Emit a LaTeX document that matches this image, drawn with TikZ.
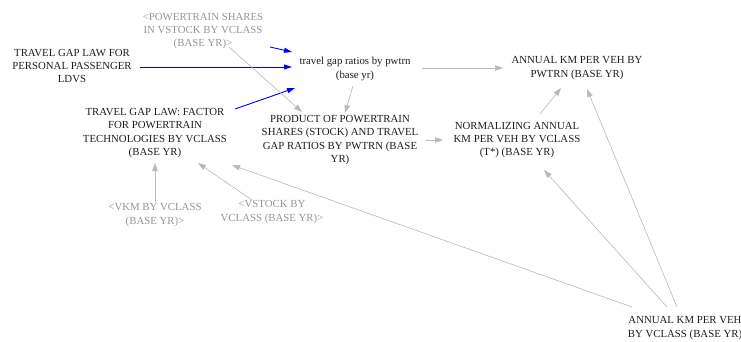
\documentclass[tikz,border=0pt]{standalone}
\usepackage{fontspec}
\setmainfont{Liberation Serif}
\usetikzlibrary{arrows.meta,calc}
\definecolor{txt}{RGB}{30,30,30}
\definecolor{shadow}{RGB}{150,150,150}
\definecolor{lnk}{RGB}{185,185,185}
\definecolor{blu}{RGB}{0,0,255}
\tikzset{
  var/.style={inner sep=0pt, align=center, text=txt, font=\fontsize{10.8}{13.3}\selectfont},
  ghost/.style={var, text=shadow},
  garrow/.style={draw=lnk, line width=0.6pt, -{Triangle[length=8pt,width=5.5pt]}},
  barrow/.style={draw=blu, line width=0.9pt, -{Triangle[length=8pt,width=5pt]}},
}
\begin{document}
\begin{tikzpicture}[x=1pt,y=-1pt]
\useasboundingbox[fill=white] (0,0) rectangle (741,341);
\node[ghost] (ps) at (203,31) {<POWERTRAIN SHARES\\IN VSTOCK BY VCLASS\\(BASE YR)>};
\node[var] (tgl) at (72,66) {TRAVEL GAP LAW FOR\\PERSONAL PASSENGER\\LDVS};
\node[var] (tgr) at (355,69) {travel gap ratios by pwtrn\\(base yr)};
\node[var] (ak) at (577,68) {ANNUAL KM PER VEH BY\\PWTRN (BASE YR)};
\node[var] (tgf) at (155,133) {TRAVEL GAP LAW: FACTOR\\FOR POWERTRAIN\\TECHNOLOGIES BY VCLASS\\(BASE YR)};
\node[var] (prod) at (340,140) {PRODUCT OF POWERTRAIN\\SHARES (STOCK) AND TRAVEL\\GAP RATIOS BY PWTRN (BASE\\YR)};
\node[var] (norm) at (517,140) {NORMALIZING ANNUAL\\KM PER VEH BY VCLASS\\(T*) (BASE YR)};
\node[ghost] (vkm) at (155,215) {<VKM BY VCLASS\\(BASE YR)>};
\node[ghost] (vst) at (272,212) {<VSTOCK BY\\VCLASS (BASE YR)>};
\node[var] (akv) at (685,328) {ANNUAL KM PER VEH\\BY VCLASS (BASE YR)};

\draw[barrow] ($(ps)+(67,16)$) -- ($(tgr)+(-63,-17)$);
\draw[barrow] ($(tgl)+(68,1)$) -- ($(tgr)+(-63,-2)$);
\draw[barrow] ($(tgf)+(80,-24)$) -- ($(tgr)+(-60,19)$);
\draw[garrow] ($(ps)+(26,16)$) -- ($(prod)+(-38,-28)$);
\draw[garrow] ($(tgr)+(-2,17)$) -- ($(prod)+(5,-27)$);
\draw[garrow] ($(tgr)+(67,-1)$) -- ($(ak)+(-74,0)$);
\draw[garrow] ($(prod)+(86,0)$) -- ($(norm)+(-74,0)$);
\draw[garrow] ($(norm)+(23,-26)$) -- ($(ak)+(-16,20)$);
\draw[garrow] ($(akv)+(-8,-21)$) -- ($(ak)+(10,21)$);
\draw[garrow] ($(akv)+(-18,-21)$) -- ($(norm)+(27,30)$);
\draw[garrow] ($(akv)+(-53,-21)$) -- ($(tgf)+(77,32)$);
\draw[garrow] ($(vkm)+(0,-13)$) -- ($(tgf)+(0,30)$);
\draw[garrow] ($(vst)+(-20,-12)$) -- ($(tgf)+(43,30)$);
\end{tikzpicture}
\end{document}
